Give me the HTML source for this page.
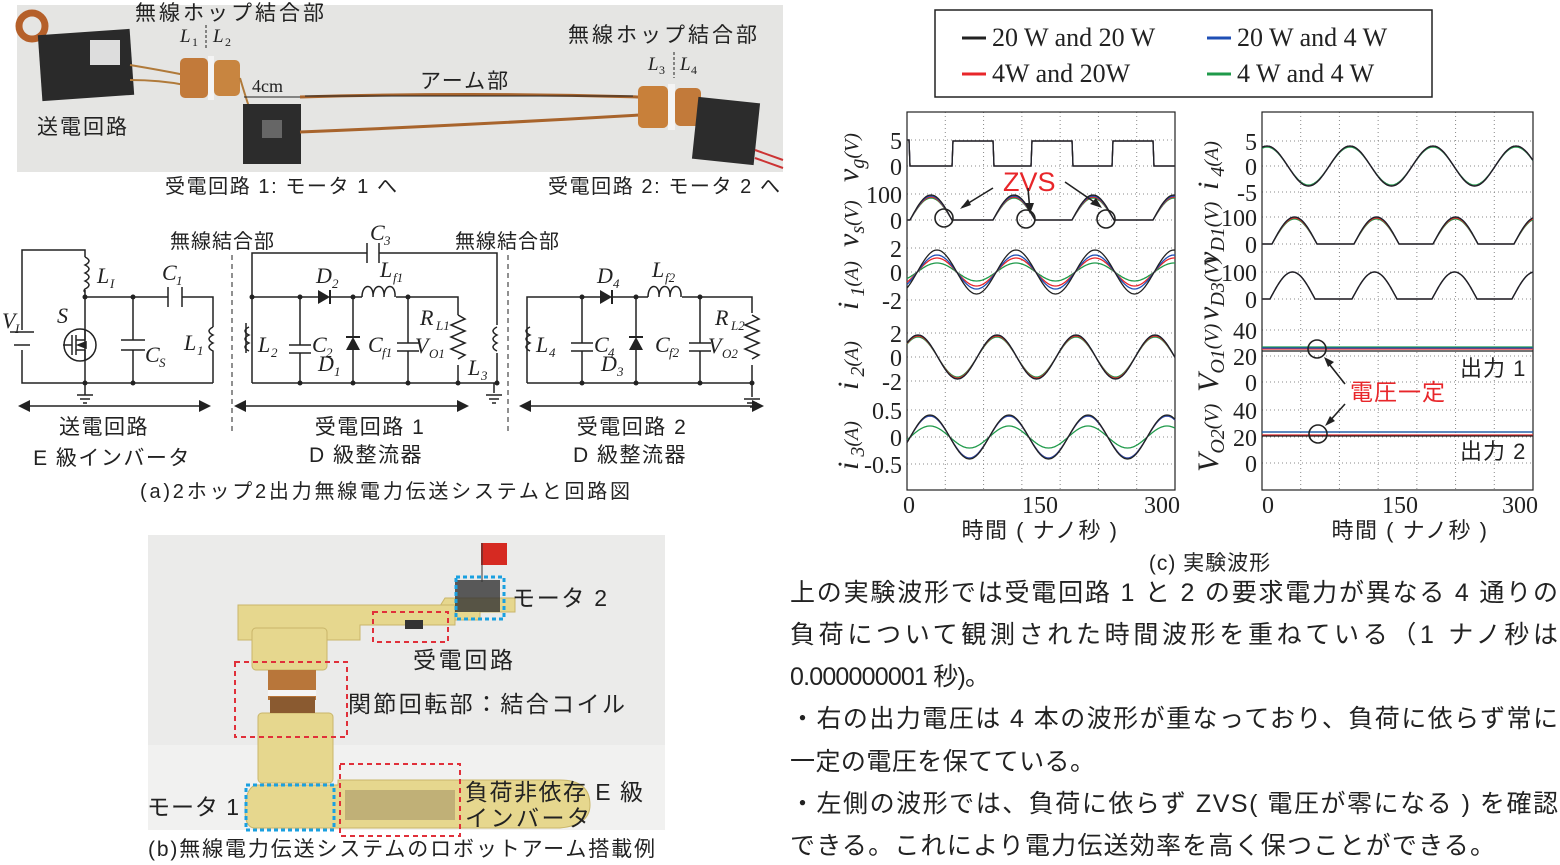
<!DOCTYPE html>
<html><head><meta charset="utf-8"><style>
html,body{margin:0;padding:0;background:#fff;}
svg{display:block;}
text{font-family:"Liberation Sans","Noto Sans CJK JP",sans-serif;fill:#222;}
.s{font-family:"Liberation Serif","Noto Serif CJK SC",serif;}
.it{font-family:"Liberation Serif",serif;font-style:italic;}
</style></head><body>
<svg id="sv" width="1560" height="865" viewBox="0 0 1560 865" xmlns="http://www.w3.org/2000/svg">
<!-- top photo -->
<rect x="17" y="5" width="766" height="167" fill="#e5e5e3"/>
<circle cx="32" cy="26" r="13" fill="none" stroke="#b5602a" stroke-width="7"/>
<rect x="40" y="32" width="92" height="66" fill="#2a2a2a" transform="rotate(-4 86 65)"/>
<rect x="90" y="40" width="30" height="25" fill="#ddd"/>
<path d="M130 65 Q160 70 185 75 M130 80 Q160 80 185 85" stroke="#b07a3a" stroke-width="2" fill="none"/>
<rect x="180" y="58" width="28" height="40" rx="5" fill="#c27a3a"/>
<rect x="208" y="56" width="6" height="44" fill="#f4f4f4"/>
<rect x="214" y="60" width="26" height="36" rx="5" fill="#c88540"/>
<path d="M240 78 Q245 95 250 110" stroke="#b07a3a" stroke-width="2" fill="none"/>
<rect x="243" y="104" width="58" height="60" fill="#2c2c2c"/>
<rect x="262" y="120" width="20" height="18" fill="#666"/>
<path d="M300 97 Q470 92 640 97 M300 132 Q470 125 640 115" stroke="#a8642c" stroke-width="3" fill="none"/>
<rect x="638" y="86" width="30" height="42" rx="5" fill="#c8803a"/>
<rect x="668" y="84" width="7" height="46" fill="#f4f4f4"/>
<rect x="675" y="88" width="26" height="38" rx="5" fill="#c27a3a"/>
<rect x="695" y="100" width="62" height="62" fill="#2c2c2c" transform="rotate(6 726 131)"/>
<path d="M755 150 L783 160 M755 158 L783 168" stroke="#c33" stroke-width="2"/>
<text x="135" y="20" font-size="21" letter-spacing="3">無線ホップ結合部</text>
<text x="180" y="42" font-size="19" class="it">L</text><text x="192" y="46" font-size="12" class="s">1</text>
<line x1="206" y1="25" x2="206" y2="50" stroke="#222" stroke-dasharray="3,2"/>
<text x="213" y="42" font-size="19" class="it">L</text><text x="225" y="46" font-size="12" class="s">2</text>
<text x="568" y="42" font-size="21" letter-spacing="3">無線ホップ結合部</text>
<text x="648" y="70" font-size="19" class="it">L</text><text x="659" y="74" font-size="12" class="s">3</text>
<line x1="674" y1="52" x2="674" y2="78" stroke="#222" stroke-dasharray="3,2"/>
<text x="680" y="70" font-size="19" class="it">L</text><text x="691" y="74" font-size="12" class="s">4</text>
<text x="252" y="92" font-size="18" class="s">4cm</text>
<line x1="244" y1="97" x2="300" y2="97" stroke="#222"/>
<text x="420" y="88" font-size="21" letter-spacing="2">アーム部</text>
<line x1="305" y1="96" x2="633" y2="96" stroke="#222"/>
<text x="37" y="134" font-size="21" letter-spacing="2">送電回路</text>
<text x="165" y="193" font-size="20" textLength="232" lengthAdjust="spacing">受電回路 1: モータ 1 へ</text>
<text x="548" y="193" font-size="20" textLength="232" lengthAdjust="spacing">受電回路 2: モータ 2 へ</text>

<!-- circuit -->
<g stroke="#222" stroke-width="1.5" fill="none">
<path d="M22 330 V250 H85 V257 M85 290 V383 M22 350 V383 H213 M85 297 H168 M182 297 H213 V327 M213 353 V383 M133 297 V340 M133 350 V383"/>
<path d="M10 332 H34 M14 345 H30"/>
<path d="M85 257 q8 4 0 8 q8 4 0 8 q8 4 0 8 q8 4 0 8 q-2 2 0 3"/>
<path d="M213 327 q-8 4 0 8 q-8 4 0 8 q-8 4 0 8 v2"/>
<path d="M168 287 V307 M182 287 V307"/>
<path d="M121 340 H145 M121 350 H145"/>
<circle cx="80" cy="345" r="16"/>
<path d="M72 335 V355 M76 335 V355 M76 340 H85 M76 350 H85 M85 330 V340 M85 350 V360 M63 345 H72"/>
<path d="M78 345 L86 342 L86 348 Z" fill="#222"/>
<path d="M77 395 H93 M80 399 H90 M83 403 H87 M85 383 V395"/>
<path d="M252 383 V253 H367 M379 253 H497 V325 M497 353 V383 H252 M252 297 H318 M330 297 H362 M396 297 H458 V315 M458 365 V383"/>
<path d="M367 243 V263 M379 243 V263"/>
<path d="M246 323 V353"/>
<path d="M249 327 q-8 4 0 8 q-8 4 0 8 q-8 4 0 8"/>
<path d="M300 297 V345 M300 353 V383 M289 345 H311 M289 353 H311"/>
<path d="M353 297 V337 M353 350 V383 M408 297 V343 M408 351 V383 M397 343 H419 M397 351 H419"/>
<path d="M458 315 l7 4 l-14 6 l14 6 l-14 6 l14 6 l-14 6 l14 6 l-7 4"/>
<path d="M362 297 c0 -14 12 -14 11 0 c0 -14 12 -14 11 0 c0 -14 12 -14 11 0"/>
<path d="M497 327 q-8 4 0 8 q-8 4 0 8 q-8 4 0 8"/>
<path d="M494 383 V393 M486 395 H502 M489 399 H499 M492 403 H496"/>
<path d="M527 383 V297 H600 M612 297 H648 M682 297 H752 V313 M752 365 V383 H527 M582 297 V343 M582 351 V383 M571 343 H593 M571 351 H593 M636 297 V337 M636 350 V383 M700 297 V343 M700 351 V383 M689 343 H711 M689 351 H711"/>
<path d="M530 327 q-8 4 0 8 q-8 4 0 8 q-8 4 0 8"/>
<path d="M752 315 l7 4 l-14 6 l14 6 l-14 6 l14 6 l-14 6 l14 6 l-7 4"/>
<path d="M648 297 c0 -14 12 -14 11 0 c0 -14 12 -14 11 0 c0 -14 12 -14 11 0"/>
<path d="M752 383 V397 M744 399 H760 M747 403 H757 M750 407 H754"/>
<path d="M22 406 H207 M238 406 H465 M523 406 H760"/>
<path d="M232 255 V432 M508 255 V432" stroke-dasharray="5,4" stroke-width="1"/>
</g>
<g fill="#222">
<path d="M318 290 L330 297 L318 304 Z"/>
<rect x="329" y="290" width="2" height="14"/>
<path d="M346 350 L353 337 L360 350 Z"/><rect x="346" y="336" width="14" height="2"/>
<path d="M600 290 L612 297 L600 304 Z"/><rect x="611" y="290" width="2" height="14"/>
<path d="M629 350 L636 337 L643 350 Z"/><rect x="629" y="336" width="14" height="2"/>
<circle cx="85" cy="297" r="2.5"/><circle cx="133" cy="297" r="2.5"/><circle cx="85" cy="383" r="2.5"/><circle cx="133" cy="383" r="2.5"/>
<circle cx="252" cy="297" r="2.5"/><circle cx="300" cy="297" r="2.5"/><circle cx="353" cy="297" r="2.5"/><circle cx="408" cy="297" r="2.5"/>
<circle cx="300" cy="383" r="2.5"/><circle cx="353" cy="383" r="2.5"/><circle cx="408" cy="383" r="2.5"/><circle cx="458" cy="383" r="2.5"/><circle cx="497" cy="383" r="2.5"/>
<circle cx="582" cy="297" r="2.5"/><circle cx="636" cy="297" r="2.5"/><circle cx="700" cy="297" r="2.5"/>
<circle cx="582" cy="383" r="2.5"/><circle cx="636" cy="383" r="2.5"/><circle cx="700" cy="383" r="2.5"/><circle cx="752" cy="383" r="2.5"/>
<path d="M18 406 L30 400 L30 412 Z M211 406 L199 400 L199 412 Z M234 406 L246 400 L246 412 Z M469 406 L457 400 L457 412 Z M519 406 L531 400 L531 412 Z M764 406 L752 400 L752 412 Z"/>
</g>
<g class="it" font-size="22">
<text x="2" y="328" class="it">V</text><text x="15" y="333" font-size="13" class="it">I</text>
<text x="57" y="323" class="it">S</text>
<text x="97" y="283" class="it">L</text><text x="110" y="288" font-size="13" class="it">I</text>
<text x="162" y="280" class="it">C</text><text x="176" y="285" font-size="13" class="s">1</text>
<text x="145" y="362" class="it">C</text><text x="159" y="367" font-size="13" class="it">S</text>
<text x="184" y="350" class="it">L</text><text x="197" y="355" font-size="13" class="s">1</text>
<text x="370" y="240" class="it">C</text><text x="384" y="245" font-size="13" class="s">3</text>
<text x="258" y="352" class="it">L</text><text x="271" y="357" font-size="13" class="s">2</text>
<text x="312" y="352" class="it">C</text><text x="326" y="357" font-size="13" class="s">2</text>
<text x="316" y="283" class="it">D</text><text x="332" y="288" font-size="13" class="s">2</text>
<text x="318" y="371" class="it">D</text><text x="334" y="376" font-size="13" class="s">1</text>
<text x="380" y="277" class="it">L</text><text x="393" y="282" font-size="13" class="it">f1</text>
<text x="368" y="352" class="it">C</text><text x="382" y="357" font-size="13" class="it">f1</text>
<text x="420" y="325" class="it">R</text><text x="436" y="330" font-size="13" class="it">L1</text>
<text x="415" y="353" class="it">V</text><text x="429" y="358" font-size="13" class="it">O1</text>
<text x="468" y="375" class="it">L</text><text x="481" y="380" font-size="13" class="s">3</text>
<text x="536" y="352" class="it">L</text><text x="549" y="357" font-size="13" class="s">4</text>
<text x="594" y="352" class="it">C</text><text x="608" y="357" font-size="13" class="s">4</text>
<text x="597" y="283" class="it">D</text><text x="613" y="288" font-size="13" class="s">4</text>
<text x="601" y="371" class="it">D</text><text x="617" y="376" font-size="13" class="s">3</text>
<text x="652" y="277" class="it">L</text><text x="665" y="282" font-size="13" class="it">f2</text>
<text x="655" y="352" class="it">C</text><text x="669" y="357" font-size="13" class="it">f2</text>
<text x="715" y="325" class="it">R</text><text x="731" y="330" font-size="13" class="it">L2</text>
<text x="708" y="353" class="it">V</text><text x="722" y="358" font-size="13" class="it">O2</text>
</g>
<text x="170" y="248" font-size="20" letter-spacing="1">無線結合部</text>
<text x="455" y="248" font-size="20" letter-spacing="1">無線結合部</text>
<g font-size="21" text-anchor="middle" letter-spacing="1.5">
<text x="104" y="434">送電回路</text><text x="112" y="465">E 級インバータ</text>
<text x="370" y="434">受電回路 1</text><text x="366" y="462">D 級整流器</text>
<text x="632" y="434">受電回路 2</text><text x="630" y="462">D 級整流器</text>
</g>
<text x="140" y="498" font-size="20" textLength="490" lengthAdjust="spacing">(a)2ホップ2出力無線電力伝送システムと回路図</text>

<!-- photo b -->
<rect x="148" y="535" width="517" height="295" fill="#ebebea"/>
<rect x="148" y="745" width="517" height="85" fill="#f1f1f0"/>
<g fill="#e6d78e" stroke="#c9b66a" stroke-width="1">
<path d="M240 606 H440 L445 598 H515 V612 H480 V620 H240 Z"/>
<path d="M238 605 H455 V625 H360 V640 H238 Z"/>
<rect x="252" y="628" width="75" height="42" rx="4"/>
<rect x="258" y="713" width="75" height="70" rx="4"/>
<path d="M255 785 H338 V780 H560 Q590 780 590 805 Q590 825 560 828 H255 Q245 828 245 810 Q245 790 255 785 Z"/>
</g>
<rect x="268" y="670" width="48" height="30" fill="#b8763a"/>
<rect x="268" y="690" width="48" height="6" fill="#f5f5f5"/>
<rect x="270" y="697" width="45" height="16" fill="#8a5a30"/>
<rect x="455" y="580" width="45" height="32" fill="#333" opacity="0.8"/>
<rect x="481" y="543" width="26" height="22" fill="#d62a22"/><line x1="482" y1="543" x2="482" y2="582" stroke="#333"/>
<rect x="405" y="620" width="18" height="9" fill="#333"/>
<rect x="345" y="790" width="110" height="30" fill="#9a8a60" opacity="0.5"/>
<g fill="none" stroke-width="2" stroke-dasharray="5,4" stroke="#e0303a">
<rect x="373" y="612" width="75" height="30"/>
<rect x="235" y="662" width="112" height="75"/>
<rect x="340" y="764" width="120" height="72"/>
</g>
<g fill="none" stroke-width="3" stroke-dasharray="4,3" stroke="#1aa0e0">
<rect x="456" y="577" width="48" height="42"/>
<rect x="246" y="785" width="88" height="45"/>
</g>
<g font-size="23">
<text x="512" y="606" textLength="95" lengthAdjust="spacing">モータ 2</text>
<text x="413" y="668" textLength="100" lengthAdjust="spacing">受電回路</text>
<text x="348" y="712" textLength="277" lengthAdjust="spacing">関節回転部：結合コイル</text>
<text x="465" y="800" textLength="178" lengthAdjust="spacing">負荷非依存 E 級</text>
<text x="465" y="826" textLength="125" lengthAdjust="spacing">インバータ</text>
<text x="147" y="815" textLength="92" lengthAdjust="spacing">モータ 1</text>
</g>
<text x="148" y="856" font-size="21" textLength="507" lengthAdjust="spacing">(b)無線電力伝送システムのロボットアーム搭載例</text>

<!-- legend -->
<rect x="935" y="10" width="497" height="87" fill="#fff" stroke="#222" stroke-width="1.5"/>
<g stroke-width="3"><line x1="962" y1="38" x2="986" y2="38" stroke="#222"/><line x1="962" y1="74" x2="986" y2="74" stroke="#e8262a"/><line x1="1207" y1="38" x2="1231" y2="38" stroke="#1f4fb5"/><line x1="1207" y1="74" x2="1231" y2="74" stroke="#1f9a4a"/></g>
<g class="s" font-size="26"><text x="992" y="46" class="s">20 W and 20 W</text><text x="992" y="82" class="s">4W and 20W</text><text x="1237" y="46" class="s">20 W and 4 W</text><text x="1237" y="82" class="s">4 W and 4 W</text></g>

<!-- plots -->
<g id="grid" stroke="#888" stroke-width="1" stroke-dasharray="1,3"></g>
<rect x="907" y="112" width="268" height="378" fill="none" stroke="#222" stroke-width="1.2"/>
<rect x="1262" y="112" width="271" height="378" fill="none" stroke="#222" stroke-width="1.2"/>
<g id="waves" fill="none" stroke-width="1.3"></g>
<g class="s" font-size="24" text-anchor="end">
<text x="902" y="149" class="s">5</text><text x="902" y="175" class="s">0</text><text x="902" y="203" class="s">100</text><text x="902" y="229" class="s">0</text>
<text x="902" y="257" class="s">2</text><text x="902" y="281" class="s">0</text><text x="902" y="309" class="s">-2</text>
<text x="902" y="342" class="s">2</text><text x="902" y="366" class="s">0</text><text x="902" y="390" class="s">-2</text>
<text x="902" y="419" class="s">0.5</text><text x="902" y="446" class="s">0</text><text x="902" y="473" class="s">-0.5</text>
<text x="1257" y="150" class="s">5</text><text x="1257" y="175" class="s">0</text><text x="1257" y="201" class="s">-5</text>
<text x="1257" y="226" class="s">100</text><text x="1257" y="253" class="s">0</text><text x="1257" y="281" class="s">100</text><text x="1257" y="308" class="s">0</text>
<text x="1257" y="339" class="s">40</text><text x="1257" y="365" class="s">20</text><text x="1257" y="391" class="s">0</text>
<text x="1257" y="419" class="s">40</text><text x="1257" y="446" class="s">20</text><text x="1257" y="472" class="s">0</text>
</g>
<g class="s" font-size="24" text-anchor="middle">
<text x="909" y="513" class="s">0</text><text x="1040" y="513" class="s">150</text><text x="1162" y="513" class="s">300</text>
<text x="1268" y="513" class="s">0</text><text x="1400" y="513" class="s">150</text><text x="1520" y="513" class="s">300</text>
</g>
<text x="1040" y="538" font-size="22" text-anchor="middle" letter-spacing="1.5">時間 ( ナノ秒 )</text>
<text x="1410" y="538" font-size="22" text-anchor="middle" letter-spacing="1.5">時間 ( ナノ秒 )</text>
<text x="1210" y="570" font-size="21" text-anchor="middle" letter-spacing="1">(c) 実験波形</text>
<g class="it" font-size="30">
<text transform="translate(858,182) rotate(-90)" class="it">v<tspan font-size="20" dy="6">g</tspan><tspan font-size="20" class="s" dy="-6">(V)</tspan></text>
<text transform="translate(858,247) rotate(-90)" class="it">v<tspan font-size="20" dy="6">s</tspan><tspan font-size="20" class="s" dy="-6">(V)</tspan></text>
<text transform="translate(858,310) rotate(-90)" class="it">i<tspan font-size="20" class="s" dy="6"> 1</tspan><tspan font-size="20" class="s" dy="-6">(A)</tspan></text>
<text transform="translate(858,390) rotate(-90)" class="it">i<tspan font-size="20" class="s" dy="6"> 2</tspan><tspan font-size="20" class="s" dy="-6">(A)</tspan></text>
<text transform="translate(858,470) rotate(-90)" class="it">i<tspan font-size="20" class="s" dy="6"> 3</tspan><tspan font-size="20" class="s" dy="-6">(A)</tspan></text>
<text transform="translate(1218,190) rotate(-90)" class="it">i<tspan font-size="20" class="s" dy="6"> 4</tspan><tspan font-size="20" class="s" dy="-6">(A)</tspan></text>
<text transform="translate(1218,265) rotate(-90)" class="it">v<tspan font-size="20" dy="6">D1</tspan><tspan font-size="20" class="s" dy="-6">(V)</tspan></text>
<text transform="translate(1218,320) rotate(-90)" class="it">v<tspan font-size="20" dy="6">D3</tspan><tspan font-size="20" class="s" dy="-6">(V)</tspan></text>
<text transform="translate(1218,392) rotate(-90)" class="it">V<tspan font-size="20" dy="6">O1</tspan><tspan font-size="20" class="s" dy="-6">(V)</tspan></text>
<text transform="translate(1218,472) rotate(-90)" class="it">V<tspan font-size="20" dy="6">O2</tspan><tspan font-size="20" class="s" dy="-6">(V)</tspan></text>
</g>
<text x="1003" y="191" font-size="27" style="fill:#e8262a">ZVS</text>
<g stroke="#222" stroke-width="1.6" fill="none">
<circle cx="944" cy="218" r="9"/><circle cx="1026" cy="219" r="9"/><circle cx="1106" cy="219" r="9"/>
<path d="M993 188 L962 207 M1028 188 L1030 212 M1065 182 L1100 206"/>
<circle cx="1317" cy="349" r="9"/><circle cx="1318" cy="434" r="9"/>
<path d="M1345 384 L1326 360 M1345 404 L1327 424"/>
</g>
<g fill="#222"><path d="M960 209 L968 199 L971 205 Z M1030 214 L1025 203 L1034 203 Z M1102 208 L1090 204 L1096 198 Z M1324 357 L1334 362 L1328 367 Z M1325 426 L1330 416 L1335 421 Z"/></g>
<text x="1460" y="376" font-size="22" letter-spacing="1">出力 1</text>
<text x="1460" y="459" font-size="22" letter-spacing="1">出力 2</text>
<text x="1350" y="400" font-size="23" style="fill:#e8262a" letter-spacing="1">電圧一定</text>

<!-- paragraph -->
<g font-size="25">
<text x="790" y="601" textLength="768" lengthAdjust="spacing">上の実験波形では受電回路 1 と 2 の要求電力が異なる 4 通りの</text>
<text x="790" y="643" textLength="768" lengthAdjust="spacing">負荷について観測された時間波形を重ねている（1 ナノ秒は</text>
<text x="790" y="685" textLength="200" lengthAdjust="spacing">0.000000001 秒)。</text>
<text x="790" y="727" textLength="768" lengthAdjust="spacing">・右の出力電圧は 4 本の波形が重なっており、負荷に依らず常に</text>
<text x="790" y="770" textLength="305" lengthAdjust="spacing">一定の電圧を保てている。</text>
<text x="790" y="812" textLength="768" lengthAdjust="spacing">・左側の波形では、負荷に依らず ZVS( 電圧が零になる ) を確認</text>
<text x="790" y="854" textLength="705" lengthAdjust="spacing">できる。これにより電力伝送効率を高く保つことができる。</text>
</g>
</svg>
<script>
(function(){
var NS="http://www.w3.org/2000/svg";
var W=document.getElementById('waves'),G=document.getElementById('grid');
function ln(x1,y1,x2,y2){var l=document.createElementNS(NS,'line');l.setAttribute('x1',x1);l.setAttribute('y1',y1);l.setAttribute('x2',x2);l.setAttribute('y2',y2);G.appendChild(l);}
[[907,1175],[1262,1533]].forEach(function(r){for(var i=1;i<7;i++){var x=r[0]+(r[1]-r[0])*i/7;ln(x,112,x,490);}});
[140,166,194,220,248,272,300,333,357,381,410,437,464].forEach(function(y){ln(907,y,1175,y);});
[141,166,192,217,244,272,299,330,356,382,410,437,463].forEach(function(y){ln(1262,y,1533,y);});
function poly(x0,x1,f,c){var p=[];for(var x=x0;x<=x1;x+=1){p.push(x+','+f(x).toFixed(1));}var e=document.createElementNS(NS,'polyline');e.setAttribute('points',p.join(' '));e.setAttribute('stroke',c);W.appendChild(e);}
var C=['#1f9a4a','#e8262a','#1f4fb5','#222'];
function sine(y0,A,xp,P){return function(x){return y0-A*Math.cos(2*Math.PI*(x-xp)/P);};}
function hump(y0,H,starts,w){return function(x){for(var i=0;i<starts.length;i++){var a=starts[i];if(x>=a&&x<=a+w)return y0-H*Math.sin(Math.PI*(x-a)/w);}return y0;};}
function vg(x){var iv=[[953,993],[1032,1072],[1113,1153]];if(x<910)return 140;for(var i=0;i<3;i++){if(x>=iv[i][0]&&x<=iv[i][1])return 141;}return 166;}
C.forEach(function(c,k){
poly(907,1175,vg,c);
poly(907,1175,hump(220,22+k,[910,993,1072,1153],42),c);
poly(907,1175,sine(272,[9,14,17,22][k],1016,79),c);
poly(907,1175,sine(357,[20,21,22,22][k],918,79),c);
poly(907,1175,sine(437,[11,21,21,22][k],930,79),c);
poly(1262,1533,sine(166,[19,20,20,20][k],1267,83),c);
poly(1262,1533,hump(244,[25,26,27,27][k],[1272,1354,1433,1514],45),c);
poly(1262,1533,hump(299,27,[1270,1352,1432,1512],45),c);
poly(1262,1533,function(x){return [347,349,348,351][k];},c);
poly(1262,1533,function(x){return [432,435,432,436][k];},c);
});
})();
</script>
</body></html>
